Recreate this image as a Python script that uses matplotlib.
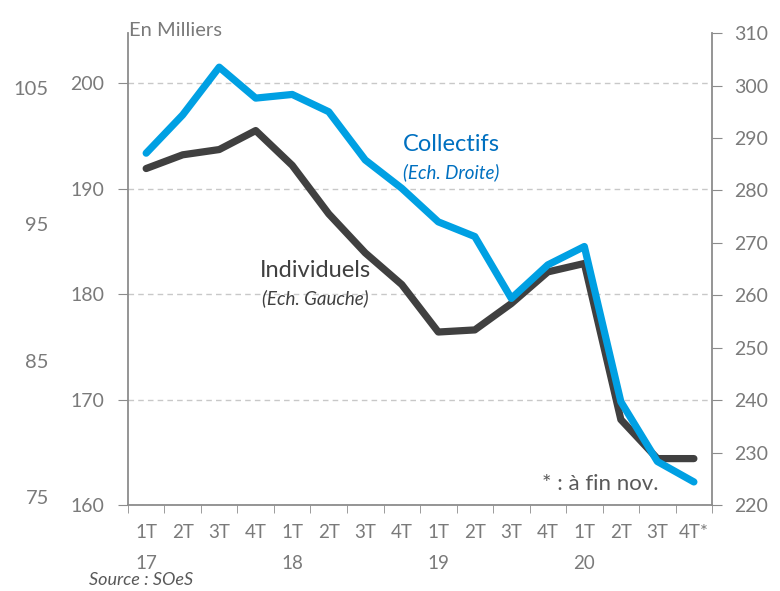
import matplotlib
matplotlib.use("Agg")
import matplotlib.pyplot as plt
import numpy as np

plt.rcParams['font.family'] = ['Lato', 'DejaVu Sans']

quarters = ["1T\n17", "2T", "3T", "4T", "1T\n18", "2T", "3T", "4T",
            "1T\n19", "2T", "3T", "4T", "1T\n20", "2T", "3T", "4T*"]
individuels = [191.9, 193.2, 193.7, 195.5, 192.2, 187.6, 183.9, 180.9,
               176.4, 176.6, 179.1, 182.1, 182.9, 168.1, 164.4, 164.4]
collectifs = [287.1, 294.4, 303.5, 297.6, 298.3, 295.0, 285.8, 280.4,
              274.0, 271.2, 259.4, 265.8, 269.3, 239.7, 228.3, 224.4]
left_ticks = [160, 170, 180, 190, 200]
right_ticks = [220, 230, 240, 250, 260, 270, 280, 290, 300, 310]
outer_ticks = [75, 85, 95, 105]

grey = "#7a7a7a"
spine_grey = "#8c8c8c"
blue = "#00a0e3"
dark = "#404040"

fig = plt.figure(figsize=(7.8, 5.91), dpi=100)
ax = fig.add_axes([0.164, 0.1455, 0.749, 0.7985])
x = np.arange(len(quarters))

ax.set_xlim(-0.5, len(quarters) - 0.5)
ax.set_ylim(160, 204.74)
ax.set_yticks(left_ticks)
ax.yaxis.grid(True, color="#c8c8c8", linestyle=(0, (4, 3)), linewidth=1)
ax.set_axisbelow(True)

# category labels at centres, tick marks at the boundaries
ax.set_xticks(x)
ax.set_xticklabels(quarters, linespacing=2.0, va="top")
ax.set_xticks(np.arange(-0.5, len(quarters), 1), minor=True)
ax.tick_params(axis="x", which="major", length=0, pad=14, labelsize=13.5, labelcolor=grey)
ax.tick_params(axis="x", which="minor", length=6, color=spine_grey, direction="out")
ax.tick_params(axis="y", length=7, color=spine_grey, pad=10, labelsize=14, labelcolor=grey)
for t in ax.get_xticklabels():
    t.set_horizontalalignment("center")

for side in ["top", "right"]:
    ax.spines[side].set_visible(False)
for side in ["left", "bottom"]:
    ax.spines[side].set_color(spine_grey)
    ax.spines[side].set_linewidth(1.3)

ax.plot(x, individuels, color=dark, linewidth=5.2, solid_capstyle="round", zorder=3)

ax2 = ax.twinx()
ax2.set_ylim(220, 310)
ax2.set_yticks(right_ticks)
ax2.plot(x, collectifs, color=blue, linewidth=5.2, solid_capstyle="round", zorder=4)
ax2.tick_params(axis="y", length=7, color=spine_grey, pad=9, labelsize=14, labelcolor=grey)
for side in ["top", "left", "bottom"]:
    ax2.spines[side].set_visible(False)
ax2.spines["right"].set_color(spine_grey)
ax2.spines["right"].set_linewidth(1.3)

# outer scale on the far left, labels only
ax3 = ax.twinx()
ax3.set_ylim(74.41, 109.04)
ax3.set_yticks(outer_ticks)
ax3.yaxis.tick_left()
ax3.tick_params(axis="y", length=0, pad=57, labelsize=14.5, labelcolor=grey)
for s in ax3.spines.values():
    s.set_visible(False)

fig.text(0.166, 0.949, "En Milliers", fontsize=14.5, color=grey, ha="left", va="center")
fig.text(0.579, 0.755, "Collectifs", fontsize=17, color="#0070c0", ha="center", va="center")
fig.text(0.579, 0.709, "(Ech. Droite)", fontsize=13.5, color="#0070c0", style="italic",
         ha="center", va="center")
fig.text(0.404, 0.543, "Individuels", fontsize=17, color=dark, ha="center", va="center")
fig.text(0.404, 0.495, "(Ech. Gauche)", fontsize=13.5, color=dark, style="italic",
         ha="center", va="center")
fig.text(0.77, 0.181, "* : à fin nov.", fontsize=16, color="#595959", ha="center", va="center")
fig.text(0.114, 0.018, "Source : SOeS", fontsize=13, color="#595959", style="italic",
         ha="left", va="center")

fig.savefig("out.png", dpi=100)
